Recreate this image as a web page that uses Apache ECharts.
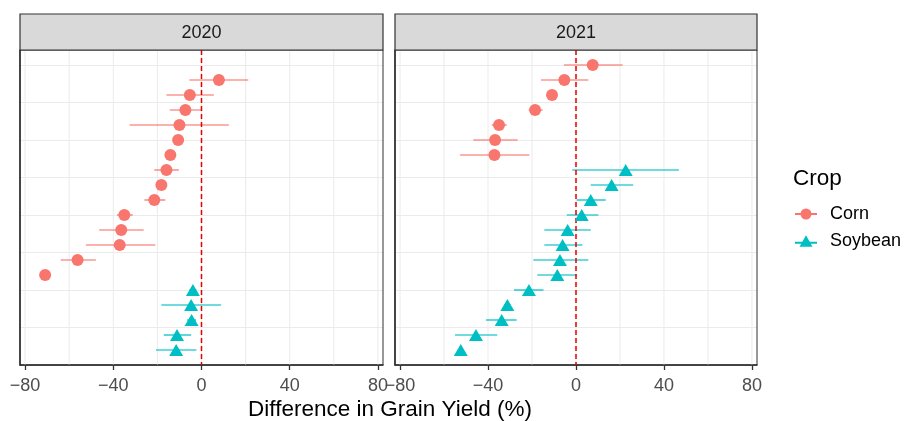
<!DOCTYPE html>
<html>
<head>
<meta charset="utf-8">
<script src="https://cdn.jsdelivr.net/npm/echarts@6/dist/echarts.min.js"></script>
<style>
  html, body { margin: 0; padding: 0; background: #fff; }
  #chart { width: 905px; height: 421px; }
</style>
</head>
<body>
<div id="chart"></div>
<script>
// facet labels and x tick labels
const years = ['2020', '2021'];
const xTicks = [-80, -40, 0, 40, 80];
const xGrid = [-80, -60, -40, -20, 0, 20, 40, 60, 80];

// 2020 corn
const corn2020Rank = [19, 18, 17, 16, 15, 14, 13, 12, 11, 10, 9, 8, 7, 6];
const corn2020Est = [7.9, -5.3, -7.3, -10, -10.6, -14.1, -15.9, -18.2, -21.4, -35, -36.4, -37.1, -56.2, -70.9];
const corn2020Lo = [-5.5, -15.9, -14.4, -32.6, -12.0, -15.6, -21.4, -20.5, -25.9, -38.3, -46.4, -52.4, -63.8, -72.0];
const corn2020Hi = [21.2, 5.6, 0, 12.4, -9.2, -12.6, -10.3, -15.9, -16.4, -31.2, -26.2, -20.9, -47.9, -69.8];
// 2020 soybean
const soy2020Rank = [5, 4, 3, 2, 1];
const soy2020Est = [-3.9, -4.7, -4.5, -11.1, -11.5];
const soy2020Lo = [-5.5, -18.2, -6.5, -17.1, -20.6];
const soy2020Hi = [-2.3, 8.9, -2.5, -4.7, -2.3];

// 2021 corn
const corn2021Rank = [20, 19, 18, 17, 16, 15, 14];
const corn2021Est = [7.6, -5.3, -10.9, -18.6, -35, -36.8, -37.1];
const corn2021Lo = [-5.5, -15.9, -11.6, -21.5, -38.3, -46.7, -52.7];
const corn2021Hi = [21.2, 5.6, -10.2, -15.2, -31.5, -26.5, -21.2];
// 2021 soybean
const soy2021Rank = [13, 12, 11, 10, 9, 8, 7, 6, 5, 4, 3, 2, 1];
const soy2021Est = [22.6, 16.2, 6.7, 2.6, -3.8, -6.1, -7.3, -8.5, -21.4, -31.2, -33.8, -45.5, -52.4];
const soy2021Lo = [-1.7, 6.7, 0.3, -4.2, -14.4, -14.4, -19.4, -17.6, -28.2, -32.6, -40.9, -55.0, -53.6];
const soy2021Hi = [46.8, 26.0, 13.5, 10.2, 6.7, 2.9, 5.6, 0.3, -14.8, -29.8, -27.0, -35.8, -51.2];

const CORN = '#F8766D';
const SOY = '#00BFC4';
const FONT = '"Liberation Sans", Arial, sans-serif';

const chart = echarts.init(document.getElementById('chart'), null, { renderer: 'canvas' });

const pts = (rank, est) => est.map((v, i) => [v, rank[i]]);
const bars = (rank, lo, hi) => lo.map((v, i) => [v, hi[i], rank[i]]);

const facets = [
  { corn: pts(corn2020Rank, corn2020Est), cornBars: bars(corn2020Rank, corn2020Lo, corn2020Hi),
    soy: pts(soy2020Rank, soy2020Est), soyBars: bars(soy2020Rank, soy2020Lo, soy2020Hi) },
  { corn: pts(corn2021Rank, corn2021Est), cornBars: bars(corn2021Rank, corn2021Lo, corn2021Hi),
    soy: pts(soy2021Rank, soy2021Est), soyBars: bars(soy2021Rank, soy2021Lo, soy2021Hi) }
];

// panel boxes (px)
const panels = [
  { left: 20, width: 363 },
  { left: 395, width: 362 }
];
const TOP = 50, H = 315, STRIP = 36;

const minus = v => String(v).replace('-', '\u2212');

function errBar(color) {
  return function (params, api) {
    const y = api.value(2);
    const p1 = api.coord([api.value(0), y]);
    const p2 = api.coord([api.value(1), y]);
    return {
      type: 'line',
      shape: { x1: p1[0], y1: p1[1], x2: p2[0], y2: p2[1] },
      style: { stroke: color, lineWidth: 1.7, opacity: 0.75 }
    };
  };
}

function vLine(style) {
  return function (params, api) {
    const cs = params.coordSys;
    const p = api.coord([api.value(0), 0]);
    return {
      type: 'line',
      shape: { x1: p[0], y1: cs.y, x2: p[0], y2: cs.y + cs.height },
      style: style
    };
  };
}

const grid = [], xAxis = [], yAxis = [], series = [], graphic = [];

panels.forEach((p, k) => {
  grid.push({ left: p.left, top: TOP, width: p.width, height: H });
  xAxis.push({
    type: 'value', gridIndex: k, min: -82.3, max: 82.3,
    splitLine: { show: false },
    axisLine: { show: true, onZero: false, lineStyle: { color: '#222', width: 1.5 } },
    axisTick: { show: true, length: 5, customValues: xTicks, lineStyle: { color: '#333', width: 1.3 } },
    axisLabel: { customValues: xTicks, formatter: minus, color: '#4d4d4d', fontSize: 18, fontFamily: FONT, margin: 12 }
  });
  yAxis.push({
    type: 'value', gridIndex: k, min: 0, max: 21, interval: 2.5,
    axisLabel: { show: false }, axisTick: { show: false },
    axisLine: { show: true, onZero: false, lineStyle: { color: '#222', width: 1.5 } },
    splitLine: { show: true, lineStyle: { color: '#ebebeb', width: 1 } }
  });

  series.push({
    type: 'custom', xAxisIndex: k, yAxisIndex: k, z: 1, silent: true,
    renderItem: vLine({ stroke: '#ebebeb', lineWidth: 1 }),
    data: xGrid.map(v => [v, 0]), encode: { x: 0, y: 1 }
  });
  series.push({
    type: 'custom', name: 'cornBars', xAxisIndex: k, yAxisIndex: k, z: 2,
    renderItem: errBar(CORN), data: facets[k].cornBars, encode: { x: [0, 1], y: 2 }
  });
  series.push({
    type: 'custom', name: 'soyBars', xAxisIndex: k, yAxisIndex: k, z: 2,
    renderItem: errBar(SOY), data: facets[k].soyBars, encode: { x: [0, 1], y: 2 }
  });
  series.push({
    type: 'custom', xAxisIndex: k, yAxisIndex: k, z: 3, silent: true,
    renderItem: vLine({ stroke: '#e30000', lineWidth: 1.5, lineDash: [5, 3] }),
    data: [[0, 0]], encode: { x: 0, y: 1 }
  });
  series.push({
    type: 'scatter', name: 'Corn', xAxisIndex: k, yAxisIndex: k, z: 4,
    symbol: 'circle', symbolSize: 12, itemStyle: { color: CORN, opacity: 1 },
    data: facets[k].corn
  });
  series.push({
    type: 'scatter', name: 'Soybean', xAxisIndex: k, yAxisIndex: k, z: 4,
    symbol: 'triangle', symbolSize: [14, 12], itemStyle: { color: SOY, opacity: 1 },
    data: facets[k].soy
  });

  // panel border
  graphic.push({
    type: 'rect', z: 10, silent: true,
    shape: { x: p.left, y: TOP, width: p.width, height: H },
    style: { fill: 'none', stroke: '#333', lineWidth: 1 }
  });
  // strip
  graphic.push({
    type: 'rect', z: 10,
    shape: { x: p.left, y: TOP - STRIP, width: p.width, height: STRIP },
    style: { fill: '#d9d9d9', stroke: '#333', lineWidth: 1.2 }
  });
  graphic.push({
    type: 'text', z: 11, x: p.left + p.width / 2, y: TOP - STRIP / 2 + 1,
    style: { text: years[k], fill: '#1a1a1a', fontSize: 18, fontFamily: FONT, align: 'center', verticalAlign: 'middle' }
  });
});

graphic.push({
  type: 'text', x: 390, y: 410,
  style: { text: 'Difference in Grain Yield (%)', fill: '#000', fontSize: 22.5, fontFamily: FONT, align: 'center', verticalAlign: 'middle' }
});
graphic.push({
  type: 'text', x: 793, y: 179,
  style: { text: 'Crop', fill: '#000', fontSize: 22.5, fontFamily: FONT, align: 'left', verticalAlign: 'middle' }
});

const option = {
  animation: false,
  backgroundColor: '#fff',
  grid: grid,
  xAxis: xAxis,
  yAxis: yAxis,
  legend: {
    data: [
      { name: 'Corn', icon: 'path://M0,9h22v2H0z M11,4.5a5.5,5.5 0 1 1 0,11a5.5,5.5 0 1 1 0,-11z' },
      { name: 'Soybean', icon: 'path://M0,11h22v2H0z M11,4.5L17.5,16H4.5z' }
    ],
    orient: 'vertical', left: 790, top: 200,
    itemWidth: 22, itemHeight: 14, itemGap: 9,
    textStyle: { fontSize: 18, fontFamily: FONT, color: '#000', padding: [0, 0, 0, 8] }
  },
  graphic: graphic,
  series: series
};

chart.setOption(option);
</script>
</body>
</html>
